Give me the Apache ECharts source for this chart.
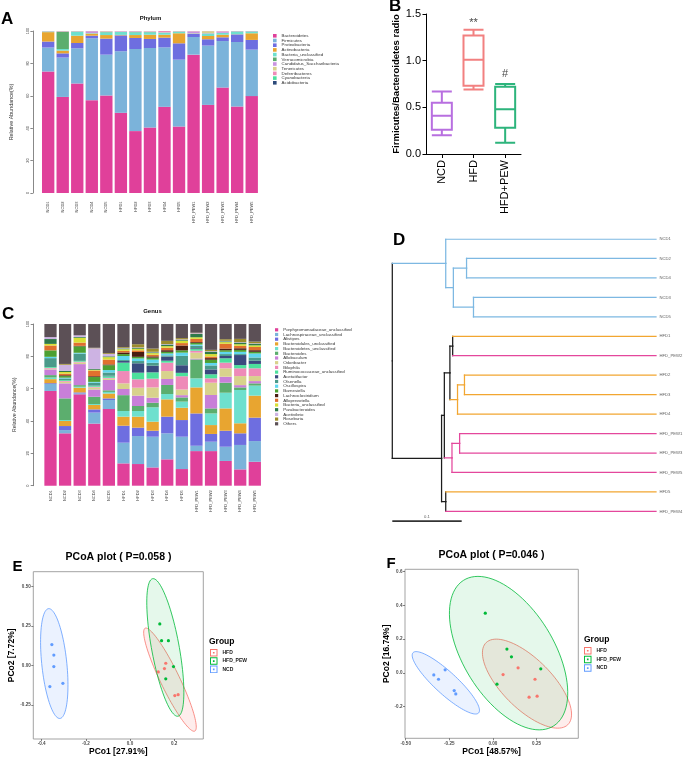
<!DOCTYPE html>
<html><head><meta charset="utf-8">
<script src="https://cdn.jsdelivr.net/npm/echarts@6/dist/echarts.min.js"></script>
<style>html,body{margin:0;padding:0;background:#fff}#c{width:685px;height:757px}</style>
</head><body><div id="c"></div><script>
// ---------------- DATA ----------------
const samples = ['NCD1','NCD2','NCD3','NCD4','NCD5','HFD1','HFD2','HFD3','HFD4','HFD5','HFD_PEW1','HFD_PEW2','HFD_PEW3','HFD_PEW4','HFD_PEW5'];

// Panel A - Phylum (%)
const phylumNames = ['Bacteroidetes','Firmicutes','Proteobacteria','Actinobacteria','Bacteria_unclassified','Verrucomicrobia','Candidatus_Saccharibacteria','Tenericutes','Deferribacteres','Cyanobacteria','Acidobacteria'];
const bacteroidetes  = [75,59.3,67.6,57.3,60.2,49.5,38.2,40.5,53.2,41.1,85.4,54.4,65.1,53.4,59.8];
const firmicutes     = [14.8,24.3,21.7,38.2,25.2,38,50.7,49,36.7,41.2,10.9,36.6,28.7,39.8,28.7];
const proteobacteria = [3.7,2.6,3.3,1.6,9.9,9.8,6.8,5.6,6,10.1,1.9,3.9,2.3,4.7,6];
const actinobacteria = [5.8,1.7,4.5,1.3,2.2,0.3,1.8,2.6,1.8,6.2,0.2,2,1.6,0.1,4.1];
const phyBactUnc     = [0.4,1,2.5,0.3,1.7,1.9,1.7,1.5,1.2,1,0.2,1.5,1.1,1.7,1.1];
const verrucomicrobia= [0,10.7,0.1,0,0.3,0,0.3,0.2,0.1,0.1,0,0.1,0.1,0.1,0.1];
const saccharibact   = [0.1,0.2,0.1,1.2,0.2,0.3,0.3,0.3,0.2,0.1,1.2,0.2,0.8,0.1,0.1];
const tenericutes    = [0.1,0.1,0.1,0.1,0.2,0.1,0.1,0.2,0.1,0.1,0.1,1.2,0.1,0,0];
const deferribact    = [0.1,0.1,0.1,0,0.1,0.1,0.1,0.1,0.7,0.1,0.1,0.1,0.2,0.1,0.1];
const cyanobacteria  = [0,0,0,0,0,0,0,0,0,0,0,0,0,0,0];
const acidobacteria  = [0,0,0,0,0,0,0,0,0,0,0,0,0,0,0];
const phylumValues = [bacteroidetes,firmicutes,proteobacteria,actinobacteria,phyBactUnc,verrucomicrobia,saccharibact,tenericutes,deferribact,cyanobacteria,acidobacteria];

// Panel C - Genus (%)
const genusNames = ['Porphyromonadaceae_unclassified','Lachnospiraceae_unclassified','Alistipes','Bacteroidales_unclassified','Bacteroidetes_unclassified','Bacteroides','Allobaculum','Odoribacter','Bilophila','Ruminococcaceae_unclassified','Acetatifactor','Olsenella','Oscillospira','Barnesiella','Lachnoclostridium','Alloprevotella','Bacteria_unclassified','Parabacteroides','Acetivibrio','Roseburia','Others'];
const porph      = [58.6,32.4,56.5,38.4,47.4,13.8,13.4,11.3,16.3,10.3,21.4,21.4,15.3,10.1,14.8];
const lachno     = [4.3,2,0.6,6.8,5.6,12.8,17.3,19,16.1,20,3.3,5.8,8.8,15.1,12.8];
const alistipes  = [0.5,2.5,0.6,2,1,10.5,5.2,3.7,10.3,10.3,20,4.8,9.9,7.2,14.5];
const bdales     = [2.5,3.1,2.9,2.7,3,5.6,6.8,5.6,10.7,7.6,16.1,5.5,13.8,6.2,13.6];
const bdetes     = [1,0.6,0.6,0.6,1,3.5,3.5,8.9,3.3,3.8,5.6,7.2,9.7,20.6,6.2];
const bacteroides= [1.5,13.4,1,4.5,1,9.8,3.1,2.8,5.6,2.6,11.7,3.1,6.2,1.6,1.4];
const allobac    = [3.5,9.3,13,4.5,6.4,3.8,6.4,3.1,3.7,1.4,0.5,8.3,3.7,1.4,1.4];
const odori      = [0.5,1,1,1.2,0.8,3.5,4.9,6.4,4.9,3.5,3.7,7.6,5.2,5.6,3.1];
const bilo       = [0.5,0.5,0.5,0.5,0.5,7.6,5.2,5.4,5.2,8.2,1.2,2.7,3.5,4.8,4.8];
const rumino     = [0.5,0.5,0.5,0.8,1,5.2,4.1,3.9,1.2,2.1,1,2.5,2.7,2,2.7];
const acetat     = [0,0,0,0.2,0.3,1,5.8,4.1,2.5,4.7,0.5,3,1.4,6.2,2];
const olsen      = [5.5,1,4.5,1.5,2,0.6,1.4,1.8,0.8,5.8,1.5,2.5,1.2,0.6,2];
const oscill     = [0.8,0.5,0.5,0.5,1.5,2.5,1.6,2,1.2,2,0.8,1.5,1.4,1.4,2.5];
const barnes     = [4,1,4,3,3,1.2,1,1.2,1,1.4,1,2,1,1.2,1];
const lachnocl   = [0,0.5,0.3,0.5,0.5,1,3,0.8,1,3,0.5,1,1,1,1];
const allopr     = [3,1,2,3.5,3,1,1,1,1.5,1.5,2,1,3,1.5,2];
const genBactUnc = [1,1,3,0.5,1.5,1,1,1,1,1.5,1,1.5,1,1,1];
const parab      = [3,0.8,0.5,0.5,0.5,0.5,0.5,0.5,1,0.5,2,1.5,0.5,1,1];
const acetiv     = [1.2,3.7,1,12.8,1.5,0.3,0.3,0.3,0.3,0.3,0.5,0.3,0.3,0.3,0.3];
const roseb      = [0,0.5,0,0.3,0.5,0.5,2,2,2,0.8,0.3,0.8,1,2,1];
const others     = [8.1,24.7,7,14.7,18,14.3,12.5,15.2,10.4,8.7,5.4,16,9.4,9.2,10.9];
const genusValues = [porph,lachno,alistipes,bdales,bdetes,bacteroides,allobac,odori,bilo,rumino,acetat,olsen,oscill,barnes,lachnocl,allopr,genBactUnc,parab,acetiv,roseb,others];

// Panel B - Firmicutes/Bacteroidetes ratio boxplot [min, Q1, median, Q3, max]
const boxGroups = ['NCD','HFD','HFD+PEW'];
const boxNCD = [0.20,0.26,0.41,0.55,0.67];
const boxHFD = [0.69,0.73,1.01,1.27,1.33];
const boxPEW = [0.12,0.28,0.48,0.72,0.75];
const annoText = ['**','#'];
const annoGroup = ['HFD','HFD+PEW'];
const annoY = [1.40,0.86];

// Panel D - dendrogram
const leafNames = ['NCD1','NCD2','NCD4','NCD3','NCD5','HFD1','HFD_PEW2','HFD2','HFD3','HFD4','HFD_PEW1','HFD_PEW3','HFD_PEW5','HFD5','HFD_PEW4'];
const leafGroup = ['NCD','NCD','NCD','NCD','NCD','HFD','PEW','HFD','HFD','HFD','PEW','PEW','PEW','HFD','PEW'];
const leafDist = 0.38;
const merges = [ // [left child, right child, node distance from root]
  ['L1','L2',0.107], ['L3','L4',0.117], ['N0','N1',0.088], ['L0','N2',0.077],
  ['L5','L6',0.087], ['L7','L8',0.104], ['N5','L9',0.094], ['N4','N6',0.083],
  ['L10','L11',0.097], ['N8','L12',0.086], ['N7','N9',0.075], ['L13','L14',0.077],
  ['N10','N11',0.071], ['N3','N12',0.0]
];
const scaleBar = [0, 0.1];
const scaleBarLabel = '0.1';

// Panel E - PCoA (P=0.058)
const eHFD = [[0.162,0.015],[0.156,-0.019],[0.128,-0.040],[0.203,-0.190],[0.218,-0.184]];
const ePEW = [[0.135,0.264],[0.143,0.158],[0.174,0.158],[0.197,-0.006],[0.162,-0.084]];
const eNCD = [[-0.354,0.133],[-0.345,0.067],[-0.345,-0.006],[-0.363,-0.133],[-0.304,-0.112]];
// ellipses: [cx, cy, Ax, Ay, Bx, By]  (conjugate half-axes)
const eEllipses = [[0.181,-0.089,-0.109,0.327,0.048,0],[0.16,0.115,-0.055,0.436,0.0635,0],[-0.343,0.013,-0.0245,0.348,0.057,0]];
const eXTicks = [-0.4,-0.2,0.0,0.2];
const eYTicks = [-0.25,0,0.25,0.5];
// Panel F - PCoA (P=0.046)
const fHFD = [[0.058,-0.010],[0.144,0.030],[0.241,-0.038],[0.207,-0.144],[0.253,-0.138]];
const fPEW = [[-0.044,0.354],[0.080,0.141],[0.106,0.095],[0.274,0.024],[0.023,-0.067]];
const fNCD = [[-0.339,-0.012],[-0.312,-0.038],[-0.274,0.018],[-0.222,-0.105],[-0.213,-0.125]];
const fEllipses = [[0.195,-0.064,-0.176,0.264,0.185,0],[0.0895,0.117,-0.1755,0.455,0.29,0],[-0.27,-0.059,-0.17,0.185,0.091,0]];
const fXTicks = [-0.5,-0.25,0,0.25];
const fYTicks = [-0.2,0,0.2,0.4,0.6];
const groupNames = ['HFD','HFD_PEW','NCD'];

// ---------------- STYLES ----------------
const phylumColors = ['#E0409A','#7BB3DA','#6E6EE0','#E8A530','#6EE0CE','#5CAE6E','#C893E0','#D8D28C','#EE8AB8','#4CE09C','#2C4A7A'];
const genusColors = ['#E0409A','#7BB3DA','#6E6EE0','#E8A530','#6EE0CE','#5CAE6E','#C87FD8','#D8D28C','#EE8AB8','#4CE09C','#3A4A7E','#4A9A8A','#5FD6EE','#4CA032','#4A1C12','#E0702E','#D8E034','#2F7A4A','#CDB3E3','#9C8C2C','#5C5056'];
const boxColors = ['#B86FE0','#F28080','#2DB47C'];
const grpColors = ['#F8766D','#00BA38','#619CFF'];
const grpFill = ['rgba(248,118,109,0.13)','rgba(0,186,56,0.10)','rgba(97,156,255,0.13)'];
const dendroColors = {NCD:'#7DB8E2', HFD:'#F2A631', PEW:'#E4479C'};
const mixedColor = '#1c1c1c';
const FONT = 'Liberation Sans, Arial, sans-serif';

// ---------------- BUILD ----------------
const chart = echarts.init(document.getElementById('c'), null, {renderer:'canvas'});

function barSeries(names, values, colors, xi, stack, bw){
  return names.map((n,i)=>({type:'bar', name:n, xAxisIndex:xi, yAxisIndex:xi, stack:stack, barWidth:bw,
    data:values[i], itemStyle:{color:colors[i]}, emphasis:{disabled:true}, silent:true}));
}

// dendrogram layout from merges
function nodeInfo(id, cache){
  if (cache[id]) return cache[id];
  let r;
  if (id[0]==='L'){ const i=+id.slice(1); r={x:leafDist, y:i, groups:new Set([leafGroup[i]])}; }
  else { const m=merges[+id.slice(1)]; const a=nodeInfo(m[0],cache), b=nodeInfo(m[1],cache);
    r={x:m[2], y:(a.y+b.y)/2, groups:new Set([...a.groups,...b.groups])}; }
  cache[id]=r; return r;
}
const colorOf = n => n.groups.size===1 ? dendroColors[[...n.groups][0]] : mixedColor;
const cache={}; const dendroLines=[];
merges.forEach((m,j)=>{
  const p=nodeInfo('N'+j,cache);
  [m[0],m[1]].forEach(cid=>{
    const c=nodeInfo(cid,cache);
    dendroLines.push({coords:[[p.x,p.y],[p.x,c.y]], lineStyle:{color:colorOf(p)}});
    dendroLines.push({coords:[[p.x,c.y],[c.x,c.y]], lineStyle:{color:colorOf(c)}});
  });
});
const scaleY = leafNames.length - 0.5;

function ellipseRender(colorsStroke, colorsFill){
  return function(params, api){
    const cx=api.value(0), cy=api.value(1), ax=api.value(2), ay=api.value(3), bx=api.value(4), by=api.value(5);
    const pts=[];
    for(let k=0;k<96;k++){const t=k/96*2*Math.PI;
      pts.push(api.coord([cx+Math.cos(t)*ax+Math.sin(t)*bx, cy+Math.cos(t)*ay+Math.sin(t)*by]));}
    return {type:'polygon', shape:{points:pts}, style:{fill:colorsFill[params.dataIndex], stroke:colorsStroke[params.dataIndex], lineWidth:0.8}};
  };
}
const legIcon = 'path://M0,0H10V10H0Z M1.3,1.3V8.7H8.7V1.3Z M3.9,3.9H6.1V6.1H3.9Z';

function pcoaAxis(gi, min, max, ticks, name, gap){
  const dec = ticks.some(t=>Math.abs(Math.abs(t)-0.25)<1e-9) ? 2 : 1;
  return {type:'value', gridIndex:gi, min:min, max:max, name:name, nameLocation:'middle', nameGap:gap,
    nameTextStyle:{fontSize:8.5, fontWeight:'bold', color:'#000', fontFamily:FONT},
    axisLine:{show:false, onZero:false}, splitLine:{show:false},
    axisTick:{show:true, customValues:ticks, length:2, lineStyle:{color:'#333', width:0.6}},
    axisLabel:{customValues:ticks, fontSize:4.6, color:'#4d4d4d', fontWeight:'bold', margin:2.5,
      formatter:v=>(Math.abs(v)<1e-9?0:v).toFixed(dec)}};
}

const option = {
  animation:false,
  backgroundColor:'#fff',
  textStyle:{fontFamily:FONT},
  grid:[
    {left:40.9, top:31, width:218.1, height:162, outerBoundsMode:'none'},
    {left:426, top:14, width:95, height:140, outerBoundsMode:'none'},
    {left:43.2, top:324, width:218.9, height:161.7, outerBoundsMode:'none'},
    {left:392.3, top:239, width:263.7, height:scaleY*19.45+0.1, outerBoundsMode:'none'},
    {left:33.3, top:571.7, width:170, height:167.3, show:true, borderColor:'#999', borderWidth:0.9, outerBoundsMode:'none'},
    {left:405, top:569.3, width:173.3, height:169, show:true, borderColor:'#999', borderWidth:0.9, outerBoundsMode:'none'}
  ],
  xAxis:[
    {type:'category', gridIndex:0, data:samples, axisLine:{show:false}, axisTick:{show:false},
      axisLabel:{rotate:90, fontSize:4, color:'#444', margin:8.5, interval:0}},
    {type:'category', gridIndex:1, data:boxGroups, axisLine:{lineStyle:{color:'#000', width:1}},
      axisTick:{show:true, length:4, alignWithLabel:true, lineStyle:{color:'#000'}},
      axisLabel:{rotate:90, fontSize:11, color:'#000', margin:6, interval:0}},
    {type:'category', gridIndex:2, data:samples, axisLine:{show:false}, axisTick:{show:false},
      axisLabel:{rotate:90, fontSize:4, color:'#444', margin:4.5, interval:0}},
    {type:'value', gridIndex:3, min:0, max:leafDist, show:false},
    pcoaAxis(4, -0.438, 0.332, eXTicks, 'PCo1 [27.91%]', 6.5),
    pcoaAxis(5, -0.504, 0.489, fXTicks, 'PCo1 [48.57%]', 7.5)
  ],
  yAxis:[
    {type:'value', gridIndex:0, min:0, max:100, interval:20, offset:8, splitLine:{show:false},
      axisLine:{show:true, lineStyle:{color:'#555', width:0.7}}, axisTick:{show:true, length:2.5, lineStyle:{color:'#555', width:0.7}},
      axisLabel:{rotate:90, fontSize:4, color:'#444', margin:3},
      name:'Relative Abundance(%)', nameLocation:'middle', nameGap:19, nameTextStyle:{fontSize:5.4, color:'#333'}},
    {type:'value', gridIndex:1, min:0, max:1.5, interval:0.5, splitLine:{show:false},
      axisLine:{show:true, lineStyle:{color:'#000', width:1}}, axisTick:{show:true, length:3.5, lineStyle:{color:'#000'}},
      axisLabel:{fontSize:11, color:'#000', margin:5, formatter:v=>v.toFixed(1)},
      name:'Firmicutes/Bacteroidetes radio', nameLocation:'middle', nameGap:25, nameTextStyle:{fontSize:9.5, fontWeight:'bold', color:'#000'}},
    {type:'value', gridIndex:2, min:0, max:100, interval:20, offset:10, splitLine:{show:false},
      axisLine:{show:true, lineStyle:{color:'#555', width:0.7}}, axisTick:{show:true, length:2.5, lineStyle:{color:'#555', width:0.7}},
      axisLabel:{rotate:90, fontSize:4, color:'#444', margin:3},
      name:'Relative Abundance(%)', nameLocation:'middle', nameGap:16.6, nameTextStyle:{fontSize:5.2, color:'#333'}},
    {type:'value', gridIndex:3, min:0, max:scaleY, inverse:true, show:false},
    pcoaAxis(4, -0.465, 0.595, eYTicks, 'PCo2 [7.72%]', 17.3),
    pcoaAxis(5, -0.388, 0.614, fYTicks, 'PCo2 [16.74%]', 14.3)
  ],
  legend:[
    {orient:'vertical', left:273, top:33.8, padding:0, itemWidth:3.6, itemHeight:3.6, itemGap:0.7, icon:'rect', selectedMode:false,
      textStyle:{fontSize:4.4, color:'#333'}, data:phylumNames.map((n,i)=>({name:n, itemStyle:{color:phylumColors[i]}}))},
    {orient:'vertical', left:275, top:327.8, padding:0, itemWidth:3.2, itemHeight:3.2, itemGap:0.7, icon:'rect', selectedMode:false,
      textStyle:{fontSize:4.4, color:'#333'}, data:genusNames.map((n,i)=>({name:n, itemStyle:{color:genusColors[i]}}))},
    {orient:'vertical', left:210, top:649, padding:0, itemWidth:7.5, itemHeight:7.5, itemGap:0.8, selectedMode:false,
      textStyle:{fontSize:5, fontWeight:'bold', color:'#222'}, data:groupNames.map((n,i)=>({name:n, icon:legIcon, itemStyle:{color:grpColors[i]}}))},
    {orient:'vertical', left:584, top:647, padding:0, itemWidth:7.5, itemHeight:7.5, itemGap:1.15, selectedMode:false,
      textStyle:{fontSize:5, fontWeight:'bold', color:'#222'}, data:groupNames.map((n,i)=>({name:n, icon:legIcon, itemStyle:{color:grpColors[i]}}))}
  ],
  graphic:[
    {type:'text', x:1, y:19.5, style:{text:'A', verticalAlign:'middle', font:'bold 17px '+FONT, fill:'#000'}},
    {type:'text', x:150.5, y:18.3, style:{text:'Phylum', align:'center', verticalAlign:'middle', font:'bold 6px '+FONT, fill:'#111'}},
    {type:'text', x:389, y:6.5, style:{text:'B', verticalAlign:'middle', font:'bold 17px '+FONT, fill:'#000'}},
    {type:'text', x:2, y:314, style:{text:'C', verticalAlign:'middle', font:'bold 17px '+FONT, fill:'#000'}},
    {type:'text', x:152.5, y:311.2, style:{text:'Genus', align:'center', verticalAlign:'middle', font:'bold 6px '+FONT, fill:'#111'}},
    {type:'text', x:393, y:240.5, style:{text:'D', verticalAlign:'middle', font:'bold 17px '+FONT, fill:'#000'}},
    {type:'text', x:12.5, y:567, style:{text:'E', verticalAlign:'middle', font:'bold 15px '+FONT, fill:'#000'}},
    {type:'text', x:386.5, y:564, style:{text:'F', verticalAlign:'middle', font:'bold 15px '+FONT, fill:'#000'}},
    {type:'text', x:118.5, y:557, style:{text:'PCoA plot ( P=0.058 )', align:'center', verticalAlign:'middle', font:'bold 10.5px '+FONT, fill:'#000'}},
    {type:'text', x:491.5, y:555, style:{text:'PCoA plot ( P=0.046 )', align:'center', verticalAlign:'middle', font:'bold 10.5px '+FONT, fill:'#000'}},
    {type:'text', x:209, y:641.5, style:{text:'Group', verticalAlign:'middle', font:'bold 8.5px '+FONT, fill:'#000'}},
    {type:'text', x:584, y:639.7, style:{text:'Group', verticalAlign:'middle', font:'bold 8.5px '+FONT, fill:'#000'}}
  ],
  series:[
    ...barSeries(phylumNames, phylumValues, phylumColors, 0, 'phylum', '85%'),
    ...barSeries(genusNames, genusValues, genusColors, 2, 'genus', '84%'),
    {type:'boxplot', name:'F/B ratio', xAxisIndex:1, yAxisIndex:1, boxWidth:[20,20], silent:true,
      data:[boxNCD,boxHFD,boxPEW].map((v,i)=>({value:v, itemStyle:{color:'rgba(255,255,255,0)', borderColor:boxColors[i], borderWidth:2}}))},
    {type:'scatter', name:'sig', xAxisIndex:1, yAxisIndex:1, symbolSize:0, silent:true,
      data:annoText.map((t,i)=>({name:t, value:[annoGroup[i], annoY[i]]})),
      label:{show:true, position:'inside', formatter:'{b}', fontSize:11, color:'#111'}},
    {type:'lines', name:'tree', coordinateSystem:'cartesian2d', xAxisIndex:3, yAxisIndex:3, polyline:true, silent:true,
      lineStyle:{width:1.25, opacity:1, cap:'square'}, data:dendroLines},
    {type:'lines', name:'scalebar', coordinateSystem:'cartesian2d', xAxisIndex:3, yAxisIndex:3, polyline:true, silent:true,
      lineStyle:{width:1.7, color:'#333', opacity:1}, data:[{coords:[[scaleBar[0],scaleY],[scaleBar[1],scaleY]]}]},
    {type:'scatter', name:'leaves', xAxisIndex:3, yAxisIndex:3, symbolSize:0, silent:true,
      data:leafNames.map((n,i)=>({name:n, value:[leafDist,i]})),
      label:{show:true, position:'right', distance:3.5, formatter:'{b}', fontSize:4.2, color:'#333'}},
    {type:'scatter', name:'scalelabel', xAxisIndex:3, yAxisIndex:3, symbolSize:0, silent:true,
      data:[{name:scaleBarLabel, value:[(scaleBar[0]+scaleBar[1])/2, scaleY]}],
      label:{show:true, position:'top', distance:2, formatter:'{b}', fontSize:4.2, color:'#333'}},
    {type:'custom', name:'ellE', xAxisIndex:4, yAxisIndex:4, clip:true, silent:true, data:eEllipses,
      encode:{x:0,y:1}, renderItem:ellipseRender(grpColors, grpFill), z:1},
    {type:'custom', name:'ellF', xAxisIndex:5, yAxisIndex:5, clip:true, silent:true, data:fEllipses,
      encode:{x:0,y:1}, renderItem:ellipseRender(grpColors, grpFill), z:1},
    ...[eHFD,ePEW,eNCD].map((d,i)=>({type:'scatter', name:groupNames[i], xAxisIndex:4, yAxisIndex:4, data:d, symbolSize:3.2, z:3, silent:true, itemStyle:{color:grpColors[i], opacity:1}})),
    ...[fHFD,fPEW,fNCD].map((d,i)=>({type:'scatter', name:groupNames[i], xAxisIndex:5, yAxisIndex:5, data:d, symbolSize:3.2, z:3, silent:true, itemStyle:{color:grpColors[i], opacity:1}}))
  ]
};
chart.setOption(option);
</script></body></html>
